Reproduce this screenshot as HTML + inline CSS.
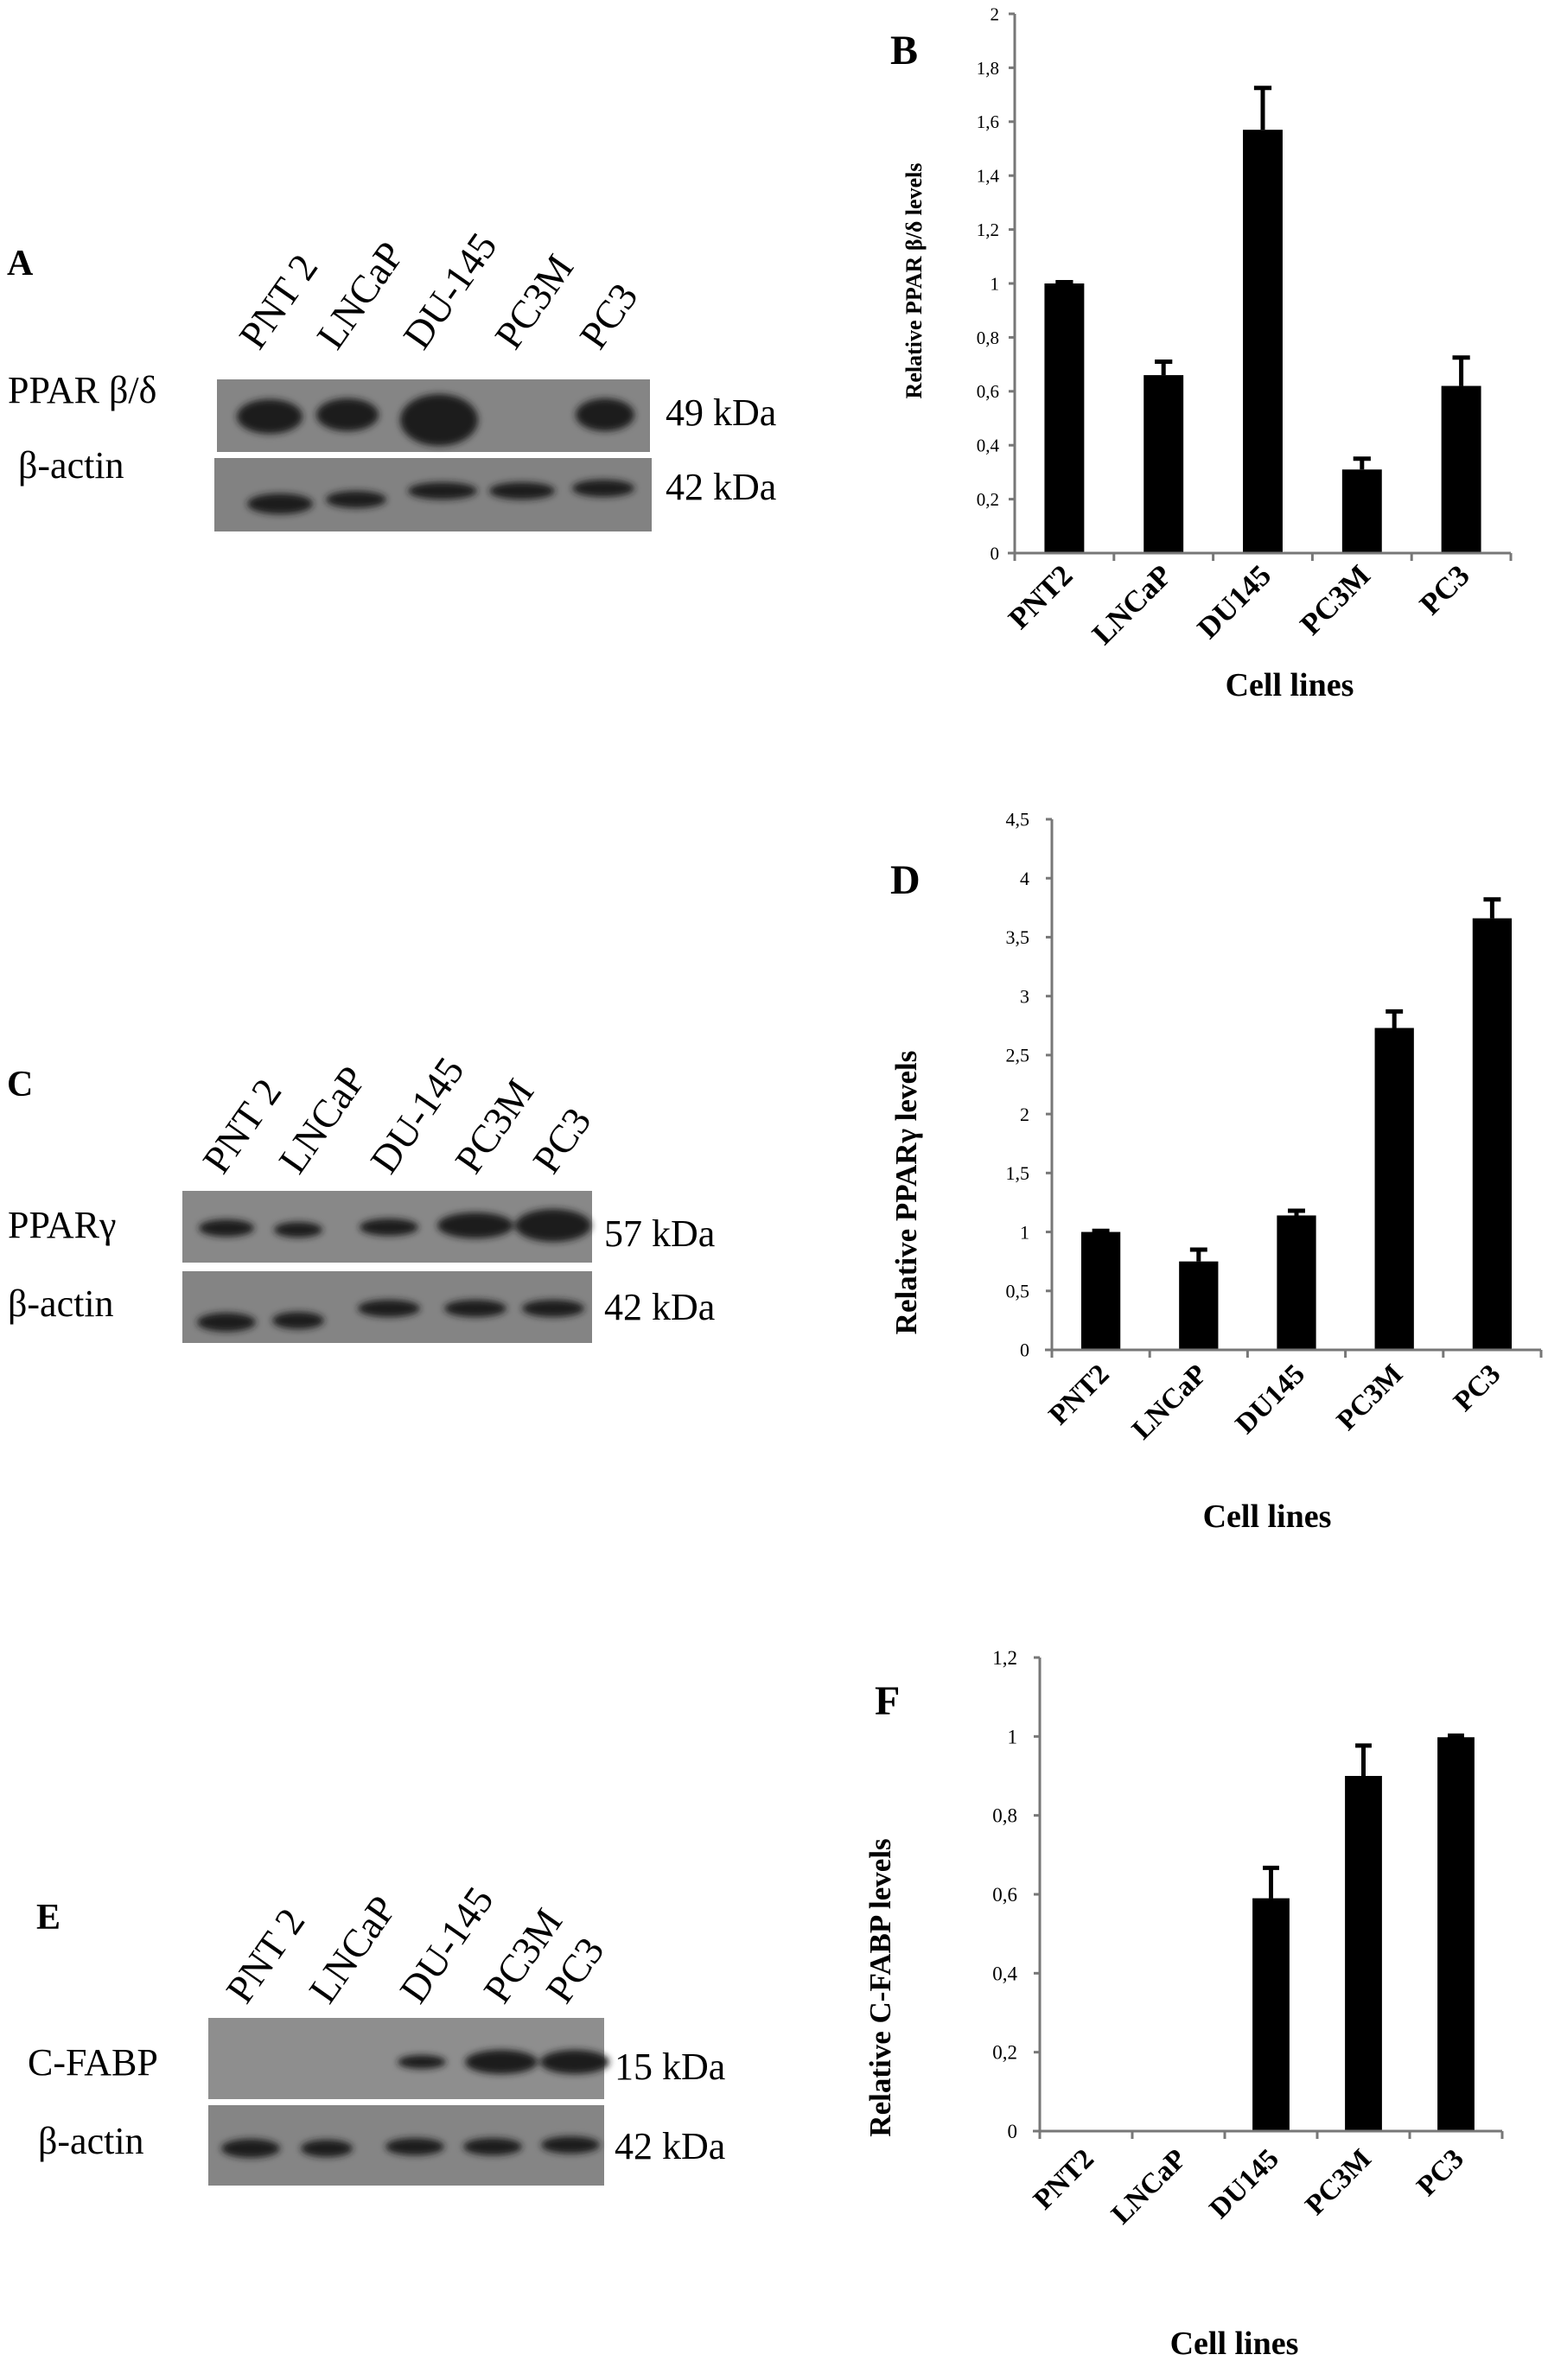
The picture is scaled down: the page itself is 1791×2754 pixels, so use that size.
<!DOCTYPE html>
<html><head><meta charset="utf-8"><style>
html,body{margin:0;padding:0;background:#fff}
svg{display:block}
text{font-family:"Liberation Serif",serif;fill:#000}
</style></head><body>
<svg id="fig" width="1791" height="2754" viewBox="0 0 1791 2754" xmlns="http://www.w3.org/2000/svg">
<defs>
<filter id="blur" x="-30%" y="-60%" width="160%" height="220%"><feGaussianBlur stdDeviation="4"/></filter>
</defs>
<text x="8" y="318" font-size="42" font-weight="bold">A</text>
<text x="1030" y="74" font-size="48" font-weight="bold">B</text>
<text x="8" y="1268" font-size="42" font-weight="bold">C</text>
<text x="1030" y="1034" font-size="48" font-weight="bold">D</text>
<text x="42" y="2232" font-size="42" font-weight="bold">E</text>
<text x="1012" y="1984" font-size="48" font-weight="bold">F</text>

<g>
<text x="9" y="466" font-size="44">PPAR β/δ</text>
<text x="21" y="553" font-size="44">β-actin</text>
<text x="770" y="492" font-size="44">49 kDa</text>
<text x="770" y="578" font-size="44">42 kDa</text>
<rect x="251" y="439" width="501" height="84" fill="#858585"/>
<rect x="248" y="530" width="506" height="85" fill="#828282"/>
<g filter="url(#blur)" fill="#1a1a1a">
<ellipse cx="312" cy="482" rx="38" ry="20"/>
<ellipse cx="402" cy="480" rx="36" ry="19"/>
<ellipse cx="508" cy="486" rx="45" ry="30"/>
<ellipse cx="700" cy="480" rx="34" ry="19"/>
<ellipse cx="324" cy="583" rx="38" ry="12"/>
<ellipse cx="412" cy="578" rx="35" ry="10"/>
<ellipse cx="512" cy="568" rx="40" ry="10"/>
<ellipse cx="604" cy="568" rx="38" ry="10"/>
<ellipse cx="698" cy="565" rx="36" ry="10"/>
</g>
<text font-size="46" transform="translate(300,407) rotate(-55)">PNT 2</text>
<text font-size="46" transform="translate(390,407) rotate(-55)">LNCaP</text>
<text font-size="46" transform="translate(490,407) rotate(-55)">DU-145</text>
<text font-size="46" transform="translate(596,407) rotate(-55)">PC3M</text>
<text font-size="46" transform="translate(694,407) rotate(-55)">PC3</text>
</g>

<g>
<text x="9" y="1432" font-size="44">PPARγ</text>
<text x="9" y="1523" font-size="44">β-actin</text>
<text x="699" y="1442" font-size="44">57 kDa</text>
<text x="699" y="1527" font-size="44">42 kDa</text>
<rect x="211" y="1378" width="474" height="83" fill="#888"/>
<rect x="211" y="1471" width="474" height="83" fill="#848484"/>
<g filter="url(#blur)" fill="#1a1a1a">
<ellipse cx="262" cy="1421" rx="32" ry="10"/>
<ellipse cx="345" cy="1423" rx="28" ry="9"/>
<ellipse cx="450" cy="1420" rx="34" ry="10"/>
<ellipse cx="550" cy="1418" rx="44" ry="15"/>
<ellipse cx="640" cy="1418" rx="44" ry="19"/>
<ellipse cx="262" cy="1530" rx="34" ry="11"/>
<ellipse cx="345" cy="1528" rx="30" ry="10"/>
<ellipse cx="450" cy="1514" rx="36" ry="10"/>
<ellipse cx="550" cy="1514" rx="36" ry="10"/>
<ellipse cx="640" cy="1514" rx="36" ry="10"/>
</g>
<text font-size="46" transform="translate(258,1361) rotate(-55)">PNT 2</text>
<text font-size="46" transform="translate(346,1361) rotate(-55)">LNCaP</text>
<text font-size="46" transform="translate(452,1361) rotate(-55)">DU-145</text>
<text font-size="46" transform="translate(550,1361) rotate(-55)">PC3M</text>
<text font-size="46" transform="translate(640,1361) rotate(-55)">PC3</text>
</g>

<g>
<text x="32" y="2401" font-size="44">C-FABP</text>
<text x="44" y="2492" font-size="44">β-actin</text>
<text x="711" y="2406" font-size="44">15 kDa</text>
<text x="711" y="2498" font-size="44">42 kDa</text>
<rect x="241" y="2335" width="458" height="94" fill="#8e8e8e"/>
<rect x="241" y="2436" width="458" height="93" fill="#858585"/>
<g filter="url(#blur)" fill="#1a1a1a">
<ellipse cx="488" cy="2386" rx="28" ry="8"/>
<ellipse cx="580" cy="2386" rx="42" ry="14"/>
<ellipse cx="665" cy="2386" rx="40" ry="14"/>
<ellipse cx="290" cy="2486" rx="34" ry="11"/>
<ellipse cx="378" cy="2486" rx="30" ry="10"/>
<ellipse cx="480" cy="2484" rx="34" ry="10"/>
<ellipse cx="570" cy="2484" rx="34" ry="10"/>
<ellipse cx="660" cy="2482" rx="34" ry="10"/>
</g>
<text font-size="46" transform="translate(285,2321) rotate(-55)">PNT 2</text>
<text font-size="46" transform="translate(381,2321) rotate(-55)">LNCaP</text>
<text font-size="46" transform="translate(486,2321) rotate(-55)">DU-145</text>
<text font-size="46" transform="translate(583,2321) rotate(-55)">PC3M</text>
<text font-size="46" transform="translate(655,2321) rotate(-55)">PC3</text>
</g>
<g id="charts"></g>
</svg>
<script>
const categories = ["PNT2","LNCaP","DU145","PC3M","PC3"];
const valuesB = [1.0, 0.66, 1.57, 0.31, 0.62];
const errorsB = [0.005, 0.05, 0.155, 0.04, 0.105];
const ticksB = ["0","0,2","0,4","0,6","0,8","1","1,2","1,4","1,6","1,8","2"];
const valuesD = [1.0, 0.75, 1.14, 2.73, 3.66];
const errorsD = [0.01, 0.1, 0.04, 0.14, 0.16];
const ticksD = ["0","0,5","1","1,5","2","2,5","3","3,5","4","4,5"];
const valuesF = [0.002, 0.002, 0.59, 0.90, 0.998];
const errorsF = [0.0, 0.0, 0.077, 0.077, 0.004];
const ticksF = ["0","0,2","0,4","0,6","0,8","1","1,2"];
const NS = "http://www.w3.org/2000/svg";
const root = document.getElementById("charts");
function mk(tag, attrs, parent){const e=document.createElementNS(NS,tag);for(const k in attrs)e.setAttribute(k,attrs[k]);parent.appendChild(e);return e;}
function drawChart(cfg, vals, errs, ticks){
  const g = mk("g",{},root);
  
  
  const step = parseFloat(ticks[1].replace(",", "."));
  const max = parseFloat(ticks[ticks.length-1].replace(",", "."));
  const y = v => cfg.y0 - (v/max)*(cfg.y0-cfg.yTop);
  const cw = (cfg.x1-cfg.x0)/vals.length;
  const x = i => cfg.x0 + cw*(i+0.5);
  const axc="#777";
  const ya = mk("line",{x1:cfg.x0,y1:cfg.yTop,x2:cfg.x0,y2:cfg.y0+8,stroke:axc,"stroke-width":3},g);
  
  
  ticks.forEach((t,i)=>{
    const v=i*step, yy=y(v);
    mk("line",{x1:cfg.x0-7,y1:yy,x2:cfg.x0,y2:yy,stroke:axc,"stroke-width":3},g);
    const tl=mk("text",{x:cfg.x0-cfg.tickGap,y:yy+cfg.tickFs*0.35,"font-size":cfg.tickFs,"text-anchor":"end"},g);
    tl.textContent=t;
    
    
  });
  vals.forEach((v,i)=>{
    const bw=cw*0.4, cx=x(i);
    const b=mk("rect",{x:cx-bw/2,y:y(v),width:bw,height:cfg.y0-y(v),fill:"#000"},g);
    
    
    if(errs[i]>0){
      const e=mk("path",{d:`M${cx} ${y(v)} V${y(v+errs[i])} M${cx-bw*0.22} ${y(v+errs[i])} H${cx+bw*0.22}`,stroke:"#000","stroke-width":5,fill:"none"},g);
      
      
    }
    const lx=cx+cw*0.1, ly=cfg.y0+cfg.catGap;
    const c=mk("text",{"font-size":cfg.catFs,"font-weight":"bold","text-anchor":"end",transform:`translate(${lx},${ly}) rotate(-45)`},g);
    c.textContent=categories[i];
    
    
  });
  const xa=mk("line",{x1:cfg.x0-8,y1:cfg.y0,x2:cfg.x1,y2:cfg.y0,stroke:axc,"stroke-width":3},g);
  
  
  for(let i=0;i<=vals.length;i++){mk("line",{x1:cfg.x0+cw*i,y1:cfg.y0,x2:cfg.x0+cw*i,y2:cfg.y0+9,stroke:axc,"stroke-width":3},g);}
  const yt=mk("text",{"font-size":cfg.titleFs,"font-weight":"bold","text-anchor":"middle",transform:`translate(${cfg.ytX},${cfg.ytY}) rotate(-90)`},g);
  yt.textContent=cfg.yTitle;
  
  
  const xt=mk("text",{x:cfg.xtX,y:cfg.xtY,"font-size":38,"font-weight":"bold","text-anchor":"middle"},g);
  xt.textContent="Cell lines";
  
  
}
drawChart({name:"chart-b",x0:1174,x1:1748,y0:640,yTop:16,tickFs:21,tickGap:18,catFs:35,catGap:28,titleFs:26,ytX:1066,ytY:325,yTitle:"Relative PPAR β/δ levels",xtX:1492,xtY:805},valuesB,errorsB,ticksB);
drawChart({name:"chart-d",x0:1217,x1:1783,y0:1562,yTop:948,tickFs:22,tickGap:26,catFs:33,catGap:30,titleFs:35,ytX:1060,ytY:1380,yTitle:"Relative PPARγ levels",xtX:1466,xtY:1767},valuesD,errorsD,ticksD);
drawChart({name:"chart-f",x0:1203,x1:1738,y0:2466,yTop:1918,tickFs:23,tickGap:26,catFs:33,catGap:34,titleFs:35,ytX:1030,ytY:2300,yTitle:"Relative C-FABP levels",xtX:1428,xtY:2724},valuesF,errorsF,ticksF);
</script>
</body></html>
